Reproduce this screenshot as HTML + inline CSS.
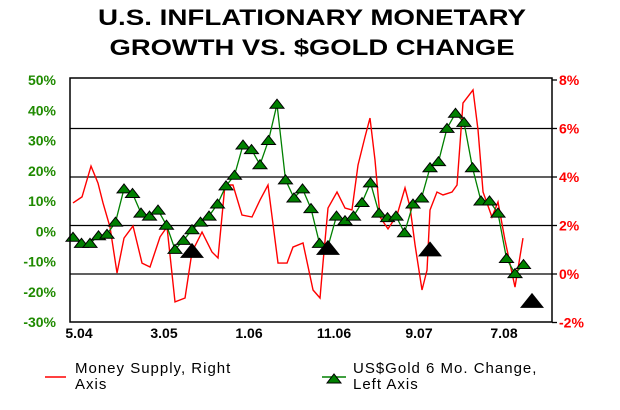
<!DOCTYPE html>
<html><head><meta charset="utf-8"><style>
html,body{margin:0;padding:0;background:#fff;}
svg{display:block;font-family:"Liberation Sans",Arial,sans-serif;}
</style></head><body>
<svg id="chart" width="620" height="410" viewBox="0 0 620 410">
<g font-weight="bold" font-size="22" text-anchor="middle" fill="#000">
<text x="312" y="25" textLength="428" lengthAdjust="spacingAndGlyphs">U.S. INFLATIONARY MONETARY</text>
<text x="312" y="55" textLength="405" lengthAdjust="spacingAndGlyphs">GROWTH VS. $GOLD CHANGE</text>
</g>
<g id="grid"></g>
<g id="laxis"></g>
<g id="raxis"></g>
<g id="xaxis"></g>
<g id="series"></g>
<rect x="70" y="78" width="482" height="244" fill="none" stroke="#000" stroke-width="1.5"/>
<g font-size="15" fill="#000">
<g>
<line x1="45" y1="377" x2="66" y2="377" stroke="#ff0000" stroke-width="1.5"/>
<text x="75" y="373" letter-spacing="1">Money Supply, Right</text>
<text x="75" y="389" letter-spacing="1">Axis</text>
</g>
<g>
<line x1="322" y1="377" x2="346" y2="377" stroke="#008000" stroke-width="1.5"/>
<polygon points="327,383 334,374 341,383" fill="#008000" stroke="#000" stroke-width="1"/>
<text x="353" y="373" letter-spacing="1">US$Gold 6 Mo. Change,</text>
<text x="353" y="389" letter-spacing="1">Left Axis</text>
</g>
</g>
</svg>
<script>
const leftTicks = [50,40,30,20,10,0,-10,-20,-30];
const rightTicks = [8,6,4,2,0,-2];
const xTickLabels = ["5.04","3.05","1.06","11.06","9.07","7.08"];
const xTickMonths = [0,10,20,30,40,50];
const goldValues = [-2,-4,-4,-1.5,-1,3,14,12.5,6,5,7,2,-6,-3,0.5,3,5,9,15,18.5,28.5,27,22,30,42,17,11,14,7.5,-4,-5,5,3.5,5,9.5,16,6,4.5,5,-0.5,9,11,21,23,34,39,36,21,10,10,6,-9,-14,-11];
const moneyMonths = [0,1.06,2.12,2.94,3.53,4.35,5.18,6,7.06,8.12,9.06,10.24,11.06,12,13.18,14,15.18,16.35,17.06,17.88,18.82,19.88,21.06,22,22.94,24.12,25.18,25.88,27.06,28.24,29.06,29.41,30,31.06,32,32.82,33.53,34.35,34.94,35.53,36.12,37.06,38.12,39.06,39.65,40.24,41.06,41.65,42,42.82,43.53,44.59,45.18,45.88,47.06,47.65,48.24,49.29,50,50.82,52,52.94];
const moneyValues = [2.93,3.18,4.45,3.75,2.93,1.94,0.04,1.48,1.98,0.45,0.29,1.53,1.94,-1.15,-0.99,0.91,1.73,0.91,0.66,3.67,3.67,2.43,2.35,3.05,3.67,0.45,0.45,1.11,1.28,-0.66,-0.99,0.45,2.72,3.38,2.72,2.64,4.49,5.65,6.43,4.7,2.35,1.86,2.43,3.55,2.76,1.2,-0.66,0.16,2.64,3.38,3.26,3.38,3.67,7.05,7.59,5.94,3.38,2.35,2.97,1.4,-0.54,1.48];
const highlightMonths = [14,30,42,54];
const highlightValues = [-6.5,-5.5,-6,-23];

const NS="http://www.w3.org/2000/svg";
const xScale = m => 73 + m*8.5;
const yLeft = v => 80 + (50 - v)*3.025;
const yRight = v => 274 - v*24.25;
function mk(tag, attrs, parent){const e=document.createElementNS(NS,tag);for(const k in attrs)e.setAttribute(k,attrs[k]);parent.appendChild(e);return e;}

const grid=document.getElementById('grid');
rightTicks.forEach(t=>{ if(t<8&&t>-2){
  const l=mk('line',{x1:70,x2:552,y1:yRight(t),y2:yRight(t),stroke:'#000','stroke-width':1.3},grid);
  
  
}});
const la=document.getElementById('laxis');
leftTicks.forEach(t=>{
  const tx=mk('text',{x:56,y:yLeft(t)+5,'text-anchor':'end','font-size':14,'font-weight':'bold',fill:'#1f8a00'},la);
  tx.textContent=t+'%';
  
  
});
const ra=document.getElementById('raxis');
rightTicks.forEach(t=>{
  const tk=mk('line',{x1:552,x2:557,y1:yRight(t),y2:yRight(t),stroke:'#000','stroke-width':1.3},ra);
  
  
  const tx=mk('text',{x:559,y:yRight(t)+5,'font-size':14,'font-weight':'bold',fill:'#ff0000'},ra);
  tx.textContent=t+'%';
  
  
});
const xa=document.getElementById('xaxis');
xTickLabels.forEach((s,i)=>{
  const tx=mk('text',{x:xScale(xTickMonths[i])+6,y:338,'text-anchor':'middle','font-size':14,'font-weight':'bold',fill:'#000'},xa);
  tx.textContent=s;
  
  
});
const ser=document.getElementById('series');
const rp=mk('polyline',{points:moneyMonths.map((m,i)=>xScale(m)+','+yRight(moneyValues[i])).join(' '),fill:'none',stroke:'#ff0000','stroke-width':1.4},ser);


const gp=mk('polyline',{points:goldValues.map((v,i)=>xScale(i)+','+yLeft(v)).join(' '),fill:'none',stroke:'#008000','stroke-width':1.3},ser);


goldValues.forEach((v,i)=>{
  const x=xScale(i),y=yLeft(v);
  const p=mk('polygon',{points:(x-7)+','+(y+4)+' '+x+','+(y-5)+' '+(x+7)+','+(y+4),fill:'#008000',stroke:'#000','stroke-width':1},ser);
  
  
});
highlightMonths.forEach((m,i)=>{
  const x=xScale(m),y=yLeft(highlightValues[i]);
  const p=mk('polygon',{points:(x-12)+','+(y+7)+' '+x+','+(y-8)+' '+(x+12)+','+(y+7),fill:'#000'},ser);
  
  
});
</script>
</body></html>
